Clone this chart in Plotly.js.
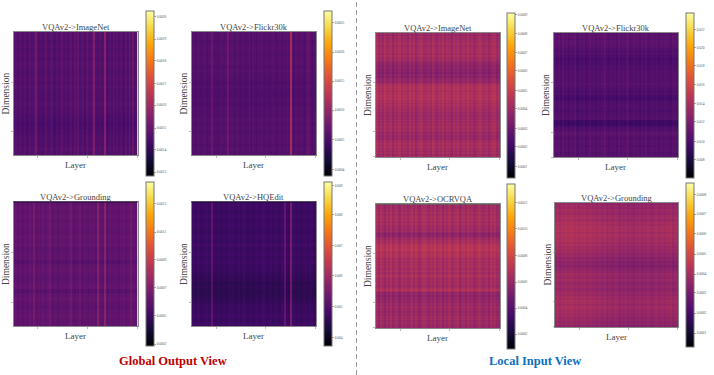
<!DOCTYPE html>
<html>
<head>
<meta charset="utf-8">
<script src="https://cdn.plot.ly/plotly-3.0.1.min.js"></script>
<style>html,body{margin:0;padding:0;background:#fff}</style>
</head>
<body>
<div id="chart" style="width:714px;height:375px"></div>
<script>
var W = 714, H = 375;

var inferno = [[0,'#000004'],[0.1,'#160b39'],[0.2,'#420a68'],[0.3,'#6a176e'],[0.4,'#932667'],
  [0.5,'#bc3754'],[0.6,'#dd513a'],[0.7,'#f37819'],[0.8,'#fca50a'],[0.9,'#f6d746'],[1,'#fcffa4']];

var titles = ['VQAv2->ImageNet','VQAv2->Flickr30k','VQAv2->ImageNet','VQAv2->Flickr30k',
  'VQAv2->Grounding','VQAv2->HQEdit','VQAv2->OCRVQA','VQAv2->Grounding'];

// column and row levels (left to right, top to bottom), colour scale 0..1
var cols1 = [.24,.25,.23,.25,.24,.23,.25,.22,.24,.25,.23,.25,.31,.25,.23,.24,.22,.25,.26,.23,.24,.28,.24,.22,.25,.23,.24,.27,.23,.25,.22,.24,.26,.23,.27,.24,.28,.23,.25,.26,.22,.27,.24,.23,.25,.35,.24,.23,.25,.24,.23,.36,.24,.22,.25,.23,.27,.24,.25,.23,.25,.24,.22,.26,.23,.30,.24,.29,.23,.24];
var rows1 = [.01,.01,.0,.01,.0,.01,.0,.01,.01,.0,.0,.01,.0,.01,.0,.0,.0,.01,.0,.0,-.01,-.015,-.02,-.015,-.01,.0,.0,.0,.01,.0];
var cols2 = [.23,.24,.23,.25,.24,.23,.24,.25,.23,.24,.24,.29,.24,.23,.24,.23,.25,.24,.23,.25,.30,.24,.25,.24,.23,.25,.24,.23,.25,.24,.23,.24,.27,.23,.25,.24,.23,.25,.24,.25,.23,.24,.25,.23,.24,.25,.25,.23,.24,.25,.23,.25,.24,.25,.24,.43,.25,.23,.25,.24,.23,.25,.24,.23,.26,.29,.25,.23,.24,.25];
var rows2 = [.01,.01,.0,.01,.01,.0,.01,.01,.0,.01,.0,.0,-.01,.0,-.01,-.01,.0,-.01,.0,.0,.0,.01,.0,.01,.0,.01,.01,.0,.01,.0];
var cols3 = [.025,-.015,.01,-.02,.03,-.01,.0,.02,-.03,.015,-.005,.025,-.02,.01,.0,-.025,.03,-.01,.015,-.03,.0,.02,.025,-.015,-.005,.015,-.02,.03,.0,-.025,.01,-.01,.03,-.02,.015,.0,-.03,.02,-.005,.025,-.02,.0,.015,-.015,.03,-.01,.01,-.025,.0,.02,.025,-.015,.0,.01,-.03,.005,.02,.025,-.02,.0];
var rows3 = [.42,.40,.43,.41,.43,.43,.44,.45,.43,.44,.45,.44,.45,.43,.45,.44,.42,.43,.41,.40,.39,.37,.39,.36,.38,.36,.37,.39,.37,.40,.41,.40,.43,.45,.47,.46,.47,.45,.47,.46,.47,.46,.47,.45,.46,.44,.45,.44,.44,.43,.44,.42,.43,.41,.43,.42,.44,.42,.44,.43,.44,.42,.44,.43,.41,.43,.40,.42,.41,.43,.44,.45,.43,.45,.43,.44,.42,.44,.41,.43];
var cols4 = [.01,.0,.015,-.01,.03,.0,.01,-.01,.015,.0,.03,-.01,.01,.0,.015,-.01,.0,.025,.0,.01,-.01,.015,.0,.01,.035,.0,-.01,.015,.0,.01,-.01,.025,.0,.01,.0,.03,-.01,.0,.015,.0,.01,-.01,.015,.0,.025,-.01,.0,.01,.0,.015,-.01,.01,.0,.015,.01,.0,-.01,.015,.01,.0];
var rows4 = [.25,.26,.25,.26,.26,.25,.24,.23,.24,.22,.21,.22,.22,.23,.23,.24,.24,.24,.24,.24,.25,.24,.23,.22,.23,.21,.20,.22,.23,.24,.23,.22,.23,.24,.24,.19,.18,.20,.23,.24,.26,.25,.24,.25,.25,.24,.25,.25,.24,.25];
var cols5 = [.27,.28,.26,.28,.27,.26,.28,.27,.26,.29,.27,.32,.27,.26,.28,.27,.29,.26,.27,.28,.31,.27,.26,.28,.27,.26,.29,.27,.28,.26,.27,.28,.31,.27,.26,.28,.27,.30,.26,.27,.28,.27,.26,.29,.27,.28,.26,.36,.28,.27,.26,.37,.27,.26,.28,.27,.26,.28,.27,.26,.28,.27,.29,.26,.28,.27,.31,.28,.27,.28];
var rows5 = [.0,.01,.0,.01,.0,.01,.0,.0,.01,.0,.01,-.01,.0,.0,-.02,.0,.01,.0,-.01,.0,.01,-.02,.0,.01,.0,-.01,.0,.01,.0,.0];
var cols6 = [.18,.18,.17,.19,.18,.17,.18,.18,.19,.17,.18,.27,.18,.17,.19,.18,.17,.18,.19,.17,.18,.19,.18,.2,.17,.18,.19,.17,.18,.2,.18,.17,.19,.18,.17,.18,.19,.18,.17,.19,.2,.18,.17,.18,.19,.17,.18,.19,.18,.17,.19,.18,.28,.18,.17,.33,.18,.19,.17,.18,.19,.17,.18,.19,.18,.17,.19,.18,.17,.18];
var rows6 = [.01,.01,.0,.01,.0,.01,.0,.0,.01,.0,.015,.0,.01,.0,.01,.0,.0,-.01,-.015,-.03,-.02,-.03,-.025,-.02,-.01,.0,.0,.01,.0,.01];
var cols7 = [.02,-.02,.025,.0,-.03,.015,-.01,.03,-.02,.005,.02,-.03,.025,-.005,.015,-.02,.0,.03,-.015,.02,-.01,-.03,.015,.025,.0,-.02,.015,-.005,.03,-.02,.0,.02,-.03,.015,-.005,.025,-.02,.0,.015,.03,-.03,.005,.02,-.015,.025,.0,.015,-.02,-.005,.03,.01,-.02,.0,.015,-.03,.025,.0,.02,-.015,-.005];
var rows7 = [.41,.43,.42,.44,.43,.45,.44,.43,.45,.44,.46,.43,.45,.44,.42,.43,.41,.43,.40,.38,.39,.41,.43,.45,.44,.46,.47,.49,.48,.49,.48,.46,.48,.47,.46,.44,.46,.44,.45,.44,.45,.43,.44,.46,.43,.44,.46,.45,.43,.44,.42,.44,.41,.43,.45,.47,.44,.39,.41,.38,.40,.39,.41,.39,.42,.40,.43,.41,.42,.40,.43,.41,.44,.42,.43,.41,.43,.42,.40,.41];
var cols8 = [.02,.03,.01,.03,.02,.04,.02,.03,.04,.02,.03,.01,.03,.02,.03,.01,.02,.03,.01,.02,.0,.02,.01,.0,.02,-.01,.01,.0,-.01,.01,.0,-.02,.0,-.01,.01,-.02,.0,-.01,-.02,.0,-.01,.01,-.02,.0,-.01,.01,.0,-.02,.0,.01,-.01,.0,.01,-.01,.01,.0,.02,-.01,.01,.0];
var rows8 = [.39,.41,.40,.42,.41,.40,.42,.43,.41,.42,.44,.43,.45,.44,.45,.43,.45,.44,.43,.44,.42,.43,.41,.42,.40,.41,.39,.40,.37,.38,.36,.37,.35,.37,.38,.39,.41,.40,.39,.41,.40,.38,.39,.40,.38,.39,.41,.40,.42,.41,.43,.42,.41,.43,.42,.41,.42,.40,.41,.39,.40,.38,.39,.37];

var colLevels = [cols1,cols2,cols3,cols4,cols5,cols6,cols7,cols8];
var rowLevels = [rows1,rows2,rows3,rows4,rows5,rows6,rows7,rows8];

// colorbar labels, bottom to top
var barLabels = [
  ['0.0013','0.0014','0.0015','0.0016','0.0017','0.0018','0.0019','0.0020'],
  ['0.0004','0.0005','0.0010','0.0015','0.0020','0.0025'],
  ['0.0001','0.0002','0.0003','0.0004','0.0005','0.0006','0.0007','0.0008','0.0009'],
  ['0.008','0.010','0.012','0.014','0.016','0.018','0.020','0.022'],
  ['0.0003','0.0005','0.0007','0.0009','0.0011','0.0013'],
  ['0.004','0.005','0.006','0.007','0.008','0.009'],
  ['0.0002','0.0004','0.0006','0.0008','0.0010','0.0012'],
  ['0.0001','0.0002','0.0003','0.0004','0.0005','0.0006','0.0007','0.0008']
];
// where those labels sit on the 0..1 colour scale
var barTicks = [
  [.024,.158,.29,.43,.56,.70,.83,.965],
  [.04,.22,.40,.575,.75,.93],
  [.07,.19,.30,.42,.53,.65,.76,.875,.99],
  [.11,.22,.34,.45,.565,.68,.79,.90],
  [.012,.183,.354,.525,.695,.866],
  [.05,.24,.43,.61,.80,.98],
  [.09,.247,.405,.565,.73,.885],
  [.085,.207,.33,.445,.567,.69,.81,.93]
];

// panel frame and colorbar frame in page pixels: left, right, top, bottom, barLeft, barTop, barBottom
var boxes = [
  [13.5,137.5,32,155,145.5,11,176],[191.5,316,32,155,323.5,11,176],
  [375.5,500,33,157,507,13,178],[553.5,678,33,157,686,13,178],
  [13.5,137.5,202,326,145.5,182,346],[191.5,316,202,326,323.5,182,346],
  [375.5,500,204,328,507,184,349],[555,678,203,327,686,183,347]
];
// some panels have a differently coloured top edge
var topEdges = [null,null,null,null,'#1c0a30','#1c0a30','#5f7f60',null];

var serif = 'Liberation Serif';
var data = [], layout = {
  width: W, height: H, margin: {l:0,r:0,t:0,b:0}, showlegend: false,
  paper_bgcolor: '#fff', plot_bgcolor: '#fff',
  font: {family: serif, color: '#444'},
  annotations: [], shapes: []
};

function label(x, y, text, size, color, angle) {
  return {xref:'paper', yref:'paper', x:x/W, y:1-y/H, xanchor:'center', yanchor:'middle',
    text:text, showarrow:false, textangle:angle || 0, font:{size:size, family:serif, color:color}};
}

titles.forEach(function(title, i) {
  var b = boxes[i], n = i + 1;
  var cols = colLevels[i], rows = rowLevels[i];
  var z = rows.map(function(r) { return cols.map(function(c) { return r + c; }); });
  data.push({
    type: 'heatmap', z: z, xaxis: 'x' + n, yaxis: 'y' + n,
    zmin: 0, zmax: 1, colorscale: inferno, hoverinfo: 'skip',
    colorbar: {
      thickness: 7.5, thicknessmode: 'pixels',
      len: b[6] - b[5], lenmode: 'pixels',
      x: b[4] / W, xanchor: 'left', xpad: 0,
      y: 1 - b[5] / H, yanchor: 'top', ypad: 0,
      outlinecolor: '#777', outlinewidth: 1, borderwidth: 0,
      tickmode: 'array', tickvals: barTicks[i], ticktext: barLabels[i],
      ticks: 'outside', ticklen: 2, tickwidth: 0.5, tickcolor: '#555',
      tickfont: {size: 3.5, family: serif, color: '#555'}
    }
  });
  var axis = {
    showgrid: false, zeroline: false, showline: true, mirror: true,
    linecolor: '#8a8a8a', linewidth: 1, ticks: 'outside', ticklen: 1.5, tickcolor: '#777', tickwidth: 0.5,
    showticklabels: false
  };
  layout['xaxis' + n] = Object.assign({}, axis, {
    domain: [b[0] / W, b[1] / W], anchor: 'y' + n, range: [-0.5, cols.length - 0.5],
    tickmode: 'array', tickvals: [cols.length * 0.19, cols.length * 0.59, cols.length * 0.99]
  });
  layout['yaxis' + n] = Object.assign({}, axis, {
    domain: [1 - b[3] / H, 1 - b[2] / H], anchor: 'x' + n, range: [rows.length - 0.5, -0.5],
    tickmode: 'array', tickvals: [rows.length * 0.39, rows.length * 0.79, rows.length * 0.99]
  });
  layout.annotations.push(
    label((b[0]+b[1])/2, b[2]-5, title, 8.5, '#444'),
    label((b[0]+b[1])/2, b[3]+10, 'Layer', 9, '#444'),
    label(b[0]-7.5, (b[2]+b[3])/2, 'Dimension', 9.5, '#444', -90)
  );
  if (topEdges[i]) {
    layout.shapes.push({type:'line', xref:'paper', yref:'paper', x0:b[0]/W, x1:b[1]/W, y0:1-b[2]/H, y1:1-b[2]/H,
      line:{color:topEdges[i], width:1}});
  }
});

layout.annotations.push(
  label(173, 360.5, '<b>Global Output View</b>', 12.5, '#c00000'),
  label(535, 361, '<b>Local Input View</b>', 12.5, '#0e70c0')
);
layout.shapes.push({type:'line', xref:'paper', yref:'paper', x0:356.5/W, x1:356.5/W, y0:0, y1:1,
  line:{color:'#999', width:1, dash:'5px,3px'}});

Plotly.newPlot('chart', data, layout, {displayModeBar:false, staticPlot:true});
</script>
</body>
</html>
